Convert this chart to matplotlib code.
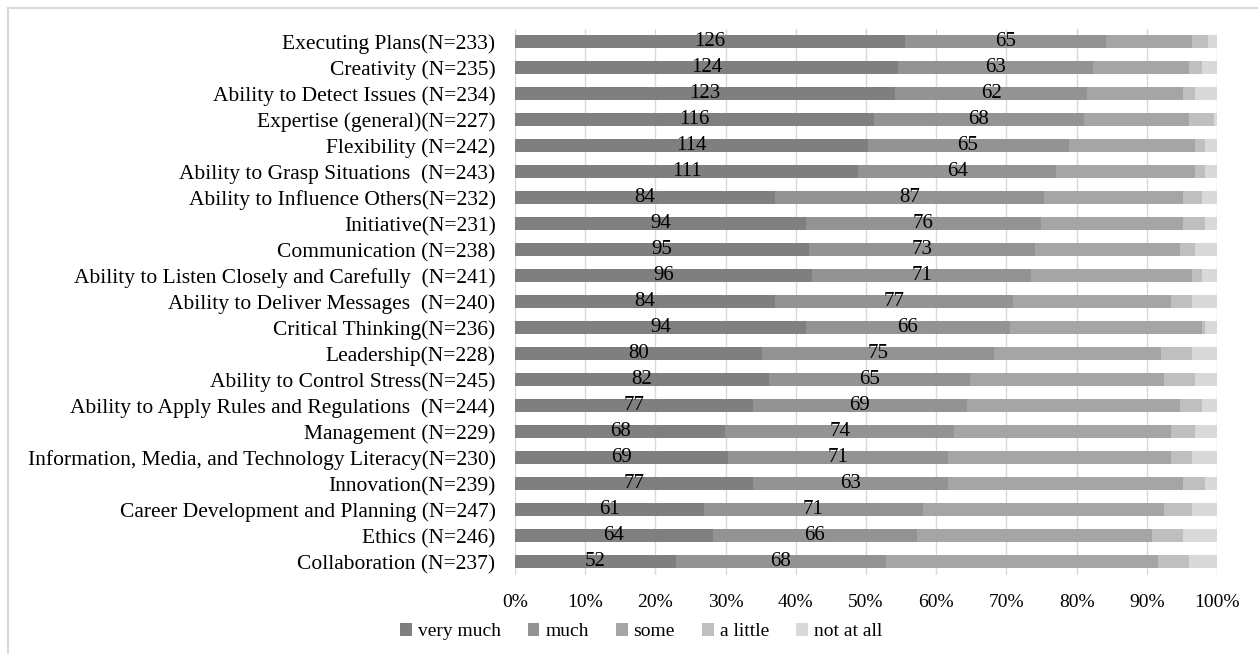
import numpy as np
import matplotlib
matplotlib.use("Agg")
import matplotlib.pyplot as plt
from matplotlib.patches import Rectangle

plt.rcParams["font.family"] = ["Liberation Serif", "DejaVu Serif"]

categories = [
    "Executing Plans(N=233)",
    "Creativity (N=235)",
    "Ability to Detect Issues (N=234)",
    "Expertise (general)(N=227)",
    "Flexibility (N=242)",
    "Ability to Grasp Situations  (N=243)",
    "Ability to Influence Others(N=232)",
    "Initiative(N=231)",
    "Communication (N=238)",
    "Ability to Listen Closely and Carefully  (N=241)",
    "Ability to Deliver Messages  (N=240)",
    "Critical Thinking(N=236)",
    "Leadership(N=228)",
    "Ability to Control Stress(N=245)",
    "Ability to Apply Rules and Regulations  (N=244)",
    "Management (N=229)",
    "Information, Media, and Technology Literacy(N=230)",
    "Innovation(N=239)",
    "Career Development and Planning (N=247)",
    "Ethics (N=246)",
    "Collaboration (N=237)",
]
very_much = [126, 124, 123, 116, 114, 111, 84, 94, 95, 96, 84, 94, 80, 82, 77, 68, 69, 77, 61, 64, 52]
much = [65, 63, 62, 68, 65, 64, 87, 76, 73, 71, 77, 66, 75, 65, 69, 74, 71, 63, 71, 66, 68]
some = [28, 31, 31, 34, 41, 45, 45, 46, 47, 52, 51, 62, 54, 63, 69, 70, 72, 76, 78, 76, 88]
a_little = [5, 4, 4, 8, 3, 3, 6, 7, 5, 3, 7, 1, 10, 10, 7, 8, 7, 7, 9, 10, 10]
not_at_all = [3, 5, 7, 1, 4, 4, 5, 4, 7, 5, 8, 4, 8, 7, 5, 7, 8, 4, 8, 11, 9]

series_names = ["very much", "much", "some", "a little", "not at all"]
colors = ["#7f7f7f", "#939393", "#a5a5a5", "#bfbfbf", "#d9d9d9"]

counts = np.array([very_much, much, some, a_little, not_at_all], dtype=float)
shares = counts / counts.sum(axis=0) * 100

fig = plt.figure(figsize=(12.58, 6.54), dpi=100)
ax = fig.add_axes([0.4094, 0.1208, 0.558, 0.8349])

# light frame around the chart area
fig.patches.append(Rectangle((8 / 1258, -0.01), 1.02, (654 - 8) / 654 + 0.01,
                             transform=fig.transFigure, fill=False,
                             edgecolor="#d9d9d9", linewidth=1.5))

y = np.arange(len(categories))
left = np.zeros(len(categories))
for i, name in enumerate(series_names):
    ax.barh(y, shares[i], left=left, height=0.5, color=colors[i],
            label=name, zorder=2)
    if i < 2:
        for yi, l, w, c in zip(y, left, shares[i], counts[i]):
            ax.text(l + w / 2, yi, f"{int(c)}", ha="center", va="center",
                    fontsize=15, color="black", zorder=3)
    left += shares[i]

ax.set_xlim(0, 100)
ax.set_ylim(len(categories) - 0.5, -0.5)
ax.set_yticks(y)
ax.set_yticklabels(categories, fontsize=15.5)
ax.set_xticks(np.arange(0, 101, 10))
ax.set_xticklabels([f"{v}%" for v in range(0, 101, 10)], fontsize=14)
ax.tick_params(length=0)
ax.tick_params(axis="y", pad=14)
ax.tick_params(axis="x", pad=14)
ax.grid(axis="x", color="#d9d9d9", linewidth=1, zorder=0)
for s in ax.spines.values():
    s.set_visible(False)

handles, labels = ax.get_legend_handles_labels()
fig.legend(handles, labels, loc="center", bbox_to_anchor=(0.5095, 0.034),
           ncol=5, frameon=False, fontsize=14, handlelength=0.6,
           handleheight=0.6, handletextpad=0.3, columnspacing=1.4)

fig.savefig("out.png", dpi=100)
